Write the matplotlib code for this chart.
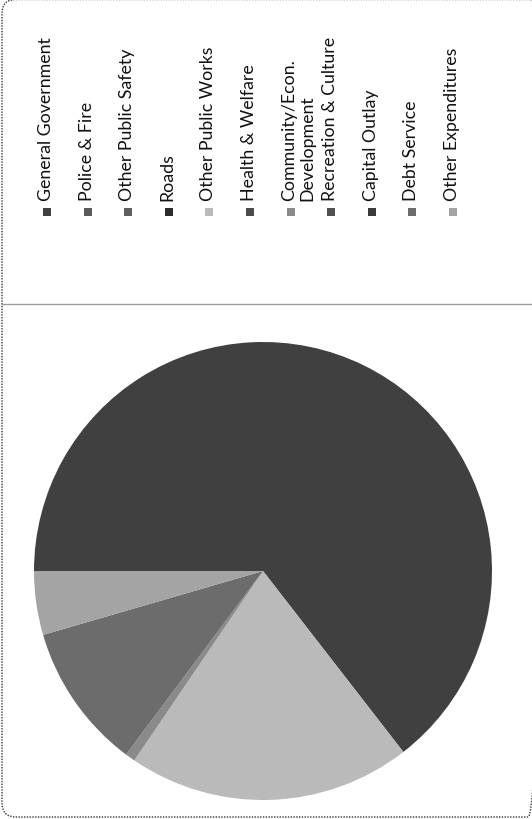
import matplotlib
matplotlib.use("Agg")
import matplotlib.pyplot as plt
from matplotlib.patches import FancyBboxPatch, Rectangle

# Expenditure categories (legend order) and their shares of the total, in percent
CATEGORIAS = [
    "General Government",
    "Police & Fire",
    "Other Public Safety",
    "Roads",
    "Other Public Works",
    "Health & Welfare",
    "Community/Econ.\nDevelopment",
    "Recreation & Culture",
    "Capital Outlay",
    "Debt Service",
    "Other Expenditures",
]
PORCENTAJES = [64.5, 0.0, 0.0, 0.0, 20.0, 0.0, 0.7, 0.0, 0.0, 10.3, 4.5]
COLORES = [
    "#404040", "#5a5a5a", "#5e5e5e", "#2c2c2c", "#bababa", "#4c4c4c",
    "#8a8a8a", "#505050", "#3a3a3a", "#6c6c6c", "#a4a4a4",
]

ANCHO, ALTO = 532, 820
plt.rcParams["font.family"] = ["Lato", "DejaVu Sans"]

fig = plt.figure(figsize=(ANCHO / 100, ALTO / 100), dpi=100)
fig.patch.set_facecolor("white")

# capa en píxeles para marco, separador y leyenda
capa = fig.add_axes([0, 0, 1, 1])
capa.set_xlim(0, ANCHO)
capa.set_ylim(ALTO, 0)
capa.axis("off")

marco = FancyBboxPatch((2, 0.5), 540, 817.5, boxstyle="round,pad=0,rounding_size=14",
                       facecolor="none", edgecolor="#333333", linewidth=1.0,
                       linestyle=(0, (1, 1)))
capa.add_patch(marco)
capa.plot([2, ANCHO], [305, 305], color="#9a9a9a", linewidth=1.0)

# leyenda girada: cada entrada es una columna
x0, paso = 47, 40.6
for i, (nombre, color) in enumerate(zip(CATEGORIAS, COLORES)):
    x = x0 + i * paso
    capa.add_patch(Rectangle((x - 4, 209), 8, 8, facecolor=color, edgecolor="none"))
    capa.text(x - 9, 201, nombre, rotation=90, ha="left", va="bottom",
              fontsize=12.8, color="#111111", multialignment="left",
              linespacing=1.15)

# gráfico circular
cx, cy, r = 263, 572, 229
ax = fig.add_axes([(cx - r) / ANCHO, (ALTO - cy - r) / ALTO, 2 * r / ANCHO, 2 * r / ALTO])
ax.pie(PORCENTAJES, colors=COLORES, startangle=180, counterclock=False,
       radius=1.0, wedgeprops=dict(linewidth=0))
ax.set_xlim(-1, 1)
ax.set_ylim(-1, 1)
ax.set_aspect("equal")
ax.axis("off")

fig.savefig("out.png", dpi=100)
